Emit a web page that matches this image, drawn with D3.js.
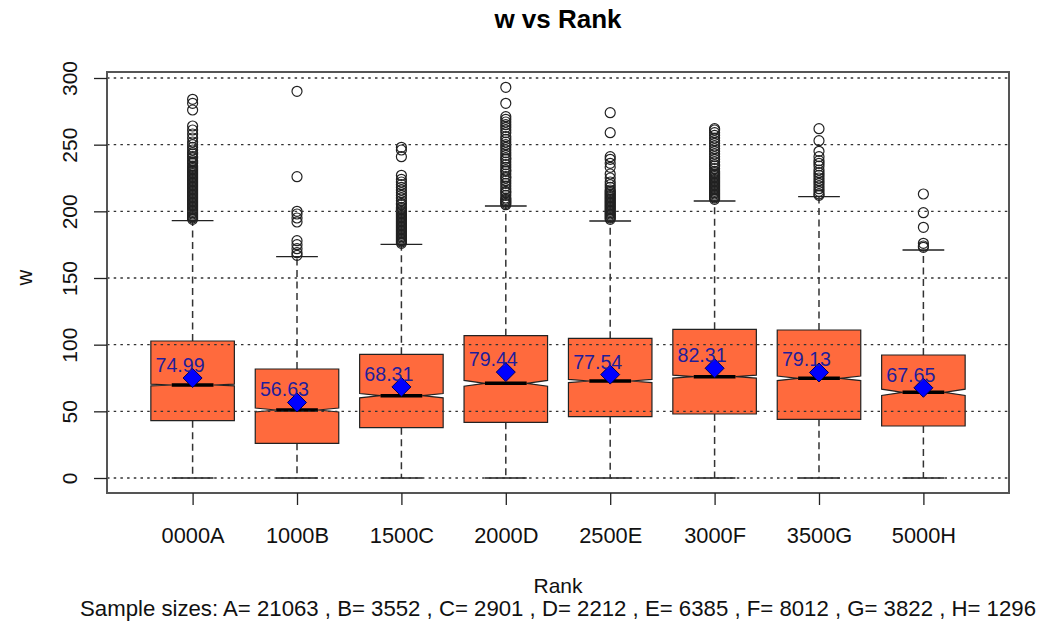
<!DOCTYPE html>
<html>
<head>
<meta charset="utf-8">
<script src="https://cdn.jsdelivr.net/npm/d3@7"></script>
<style>
  body { margin: 0; background: #fff; }
  svg { font-family: "Liberation Sans", Arial, sans-serif; }
</style>
</head>
<body>
<svg id="chart" width="1043" height="632"></svg>
<script>
// groups and their boxplot stats
var ranks    = ["0000A", "1000B", "1500C", "2000D", "2500E", "3000F", "3500G", "5000H"];
var sizes    = [21063, 3552, 2901, 2212, 6385, 8012, 3822, 1296];
var q1       = [43, 26, 37.75, 41.75, 46, 48, 44, 39];
var medians  = [69.75, 51, 61.75, 71, 72.75, 76, 74.75, 64.25];
var q3       = [102.75, 81.75, 92.75, 106.75, 104.75, 111.5, 111, 92.25];
var whiskLo  = [0, 0, 0, 0, 0, 0, 0, 0];
var whiskHi  = [193, 166, 175.25, 204, 192.75, 207.75, 211, 171];
var means    = [74.99, 56.63, 68.31, 79.44, 77.54, 82.31, 79.13, 67.65];
var outliers = [
  [194,195,196,197,198,199,200,201,202,203,204,205,206,207,208,209,210,211,212,213,214,215,216,217,218,219,220,221,222,223,224,225,226,227,228,229,230,231,232,233,234,236,237,238,240,241,243,244,246,248,250,252,255,258,261,264,276,281,284],
  [167,169,172,175,178,192,195,198,200,226,290],
  [176,177,178,179,180,181,182,183,184,185,186,187,188,189,190,191,192,193,194,195,196,197,198,199,200,201,202,203,205,206,208,210,212,214,216,218,220,222,224,227,241,246,248],
  [205,206,207,208,209,210,212,214,215,217,219,221,223,225,226,228,230,231,233,235,237,239,240,242,244,246,248,250,252,254,256,259,261,263,265,267,269,271,281,293],
  [194,195,196,197,198,199,200,201,202,203,204,205,206,207,208,209,210,211,212,213,214,215,216,218,220,222,225,228,233,236,239,241,259,274],
  [209,210,211,212,213,214,215,216,217,218,219,220,221,222,223,224,225,226,227,228,229,230,232,234,235,237,239,241,243,245,247,249,251,253,255,257,259,261,262],
  [212,213,215,217,219,221,223,225,227,229,231,234,236,238,241,245,253,262],
  [173,174,176,188,199,213]
];
var yTicks = [0, 50, 100, 150, 200, 250, 300];
var sampleLetters = ["A", "B", "C", "D", "E", "F", "G", "H"];

var svg = d3.select("#chart");
var plotL = 107, plotR = 1009, plotT = 72, plotB = 493;

var x = d3.scaleLinear().domain([0.18, 8.82]).range([plotL, plotR]);
var y = d3.scaleLinear().domain([-11.25, 304.5]).range([plotB, plotT]);
var boxW = x(1.8) - x(1);   // 0.8 units wide

var groups = ranks.map(function(r, i) {
  var iqr = q3[i] - q1[i];
  var nd = 1.58 * iqr / Math.sqrt(sizes[i]);
  return { name: r, pos: i + 1, q1: q1[i], med: medians[i], q3: q3[i],
           lo: whiskLo[i], hi: whiskHi[i], mean: means[i], out: outliers[i],
           nlo: medians[i] - nd, nhi: medians[i] + nd };
});

var g = svg.append("g");

// whiskers
g.selectAll(".wh").data(groups).enter().append("path")
  .attr("d", function(d) {
    var cx = x(d.pos);
    return "M" + cx + "," + y(d.q3) + "V" + y(d.hi) + "M" + cx + "," + y(d.q1) + "V" + y(d.lo);
  })
  .attr("stroke", "#333").attr("stroke-width", 1.5).attr("stroke-dasharray", "7,4.5").attr("fill", "none");

// caps
g.selectAll(".cap").data(groups).enter().append("path")
  .attr("d", function(d) {
    var cx = x(d.pos), hw = boxW / 4;
    return "M" + (cx - hw) + "," + y(d.hi) + "H" + (cx + hw) + "M" + (cx - hw) + "," + y(d.lo) + "H" + (cx + hw);
  })
  .attr("stroke", "#222").attr("stroke-width", 1.3);

// notched boxes
g.selectAll(".box").data(groups).enter().append("path")
  .attr("d", function(d) {
    var cx = x(d.pos), hw = boxW / 2, qw = boxW / 4;
    var pts = [
      [cx - hw, y(d.q1)], [cx - hw, y(d.nlo)], [cx - qw, y(d.med)], [cx - hw, y(d.nhi)],
      [cx - hw, y(d.q3)], [cx + hw, y(d.q3)], [cx + hw, y(d.nhi)], [cx + qw, y(d.med)],
      [cx + hw, y(d.nlo)], [cx + hw, y(d.q1)]
    ];
    return d3.line()(pts) + "Z";
  })
  .attr("fill", "#ff6a3d").attr("stroke", "#222").attr("stroke-width", 1.2);

// medians
g.selectAll(".med").data(groups).enter().append("line")
  .attr("x1", function(d) { return x(d.pos) - boxW / 4; })
  .attr("x2", function(d) { return x(d.pos) + boxW / 4; })
  .attr("y1", function(d) { return y(d.med); })
  .attr("y2", function(d) { return y(d.med); })
  .attr("stroke", "#000").attr("stroke-width", 3.5);

// outliers
groups.forEach(function(d) {
  g.selectAll(null).data(d.out).enter().append("circle")
    .attr("cx", x(d.pos)).attr("cy", function(v) { return y(v); })
    .attr("r", 5).attr("fill", "none").attr("stroke", "#222").attr("stroke-width", 1.2);
});

// grid (dotted, drawn on top)
svg.append("g").selectAll("line").data(yTicks).enter().append("line")
  .attr("x1", plotL).attr("x2", plotR)
  .attr("y1", function(v) { return y(v); }).attr("y2", function(v) { return y(v); })
  .attr("stroke", "#333").attr("stroke-width", 1.3).attr("stroke-dasharray", "2.5,4.2");

// means
var mg = svg.append("g");
mg.selectAll("path").data(groups).enter().append("path")
  .attr("d", function(d) {
    var cx = x(d.pos), cy = y(d.mean), r = 9.5;
    return "M" + cx + "," + (cy - r) + "L" + (cx + r) + "," + cy + "L" + cx + "," + (cy + r) + "L" + (cx - r) + "," + cy + "Z";
  })
  .attr("fill", "#0000ff").attr("stroke", "#00005a").attr("stroke-width", 1);
mg.selectAll("text").data(groups).enter().append("text")
  .attr("x", function(d) { return x(d.pos - 0.12); })
  .attr("y", function(d) { return y(d.mean) - 6; })
  .attr("text-anchor", "middle").attr("font-size", 19.6).attr("fill", "#1e1e9c")
  .text(function(d) { return d.mean.toFixed(2); });

// frame
svg.append("rect").attr("x", plotL).attr("y", plotT).attr("width", plotR - plotL).attr("height", plotB - plotT)
  .attr("fill", "none").attr("stroke", "#555").attr("stroke-width", 2);

// y axis
var yAxis = d3.axisLeft(y).tickValues(yTicks).tickSize(13).tickPadding(0).tickFormat(d3.format("d"));
var ya = svg.append("g").attr("transform", "translate(" + plotL + ",0)").call(yAxis);
ya.select(".domain").remove();
ya.selectAll(".tick line").attr("stroke", "#222").attr("stroke-width", 1.3);
ya.selectAll(".tick text")
  .attr("x", null).attr("dy", null)
  .attr("font-size", 21).attr("fill", "#111").attr("font-family", "Liberation Sans, Arial, sans-serif")
  .attr("text-anchor", "middle")
  .attr("transform", "translate(-30,0) rotate(-90)");

// x axis
var xAxis = d3.axisBottom(x).tickValues(groups.map(function(d) { return d.pos; }))
  .tickSize(12).tickFormat(function(v) { return ranks[v - 1]; });
var xa = svg.append("g").attr("transform", "translate(0," + plotB + ")").call(xAxis);
xa.select(".domain").remove();
xa.selectAll(".tick line").attr("stroke", "#222").attr("stroke-width", 1.3);
xa.selectAll(".tick text").attr("y", 50).attr("dy", null)
  .attr("font-size", 21.8).attr("fill", "#111").attr("font-family", "Liberation Sans, Arial, sans-serif");

// titles
var midX = (plotL + plotR) / 2;
svg.append("text").attr("x", midX).attr("y", 28).attr("text-anchor", "middle")
  .attr("font-size", 26).attr("font-weight", "bold").text("w vs Rank");
svg.append("text").attr("transform", "translate(32," + ((plotT + plotB) / 2 - 5) + ") rotate(-90)")
  .attr("text-anchor", "middle").attr("font-size", 21.8).attr("fill", "#111").text("w");
svg.append("text").attr("x", midX).attr("y", 593).attr("text-anchor", "middle")
  .attr("font-size", 21).attr("fill", "#111").text("Rank");
svg.append("text").attr("x", midX).attr("y", 616).attr("text-anchor", "middle")
  .attr("font-size", 22.2).attr("fill", "#111")
  .text("Sample sizes: " + sampleLetters.map(function(l, i) { return l + "= " + sizes[i]; }).join(" , "));
</script>
</body>
</html>
